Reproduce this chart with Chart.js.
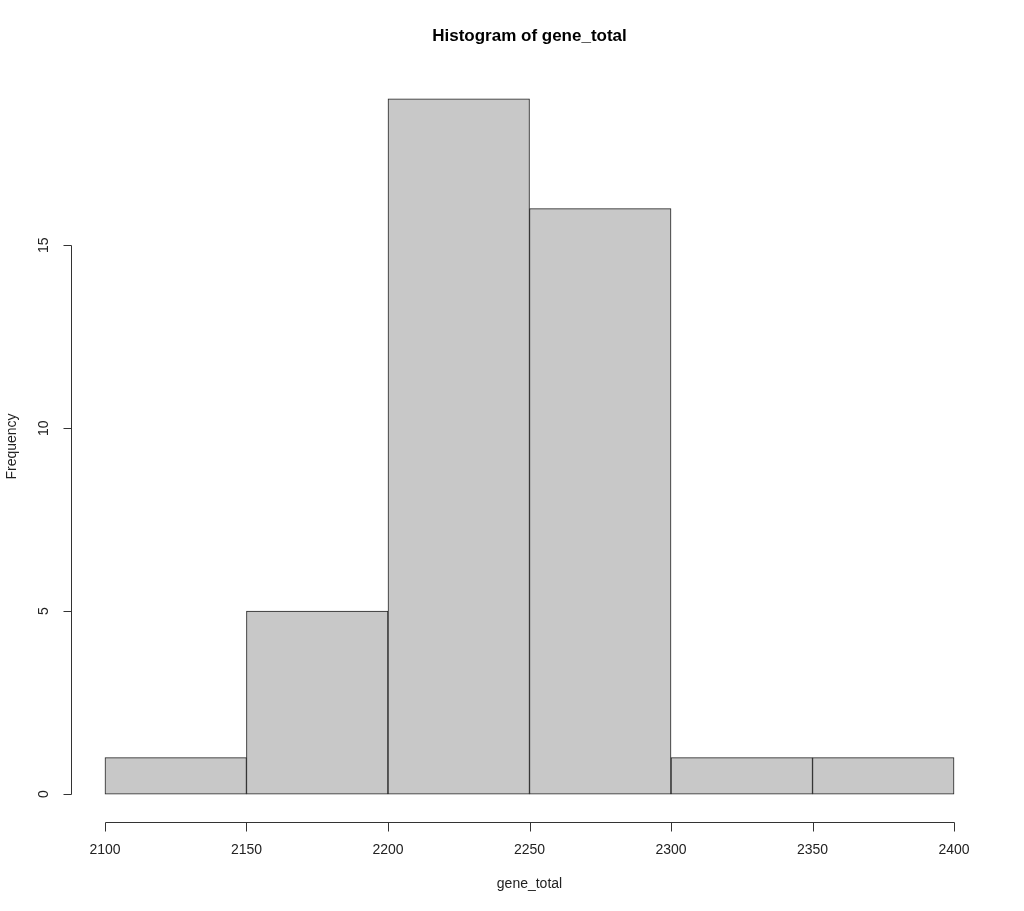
<!DOCTYPE html>
<html>
  <head>
    <meta charset="utf-8">
    <title>Histogram of gene_total</title>
    <script src="https://cdn.jsdelivr.net/npm/chart.js@4.4.1/dist/chart.umd.min.js"></script>
    <style>
      html, body { margin: 0; padding: 0; background: #fff; }
      canvas { display: block; }
    </style>
  </head>
  <body>
    <canvas id="hist" width="1024" height="911"></canvas>
    <script>
      // bin edges and counts
      const breaks = [2100, 2150, 2200, 2250, 2300, 2350, 2400];
      const counts = [1, 5, 19, 16, 1, 1];
      const xTicks = [2100, 2150, 2200, 2250, 2300, 2350, 2400];
      const yTicks = [0, 5, 10, 15];

      const titleText = 'Histogram of gene_total';
      const xLabel = 'gene_total';
      const yLabel = 'Frequency';

      const points = counts.map((c, i) => ({ x: (breaks[i] + breaks[i + 1]) / 2, y: c }));

      const FONT = '"Liberation Sans", Arial, Helvetica, sans-serif';

      // R style detached axes, drawn after the bars
      const rAxes = {
        id: 'rAxes',
        afterDraw(chart) {
          const ctx = chart.ctx;
          const xs = chart.scales.x, ys = chart.scales.y;
          const area = chart.chartArea;
          ctx.save();
          ctx.strokeStyle = '#333';
          ctx.fillStyle = '#222';
          ctx.lineWidth = 1;

          // x axis
          const ax = area.bottom + 0.5;
          ctx.beginPath();
          ctx.moveTo(Math.round(xs.getPixelForValue(xTicks[0])) + 0.5, ax);
          ctx.lineTo(Math.round(xs.getPixelForValue(xTicks[xTicks.length - 1])) + 0.5, ax);
          xTicks.forEach(v => {
            const px = Math.round(xs.getPixelForValue(v)) + 0.5;
            ctx.moveTo(px, ax);
            ctx.lineTo(px, ax + 9);
          });
          ctx.stroke();
          ctx.font = '14px ' + FONT;
          ctx.textAlign = 'center';
          ctx.textBaseline = 'middle';
          xTicks.forEach(v => ctx.fillText(String(v), xs.getPixelForValue(v), ax + 28));

          // y axis
          const ay = area.left + 0.5;
          ctx.beginPath();
          ctx.moveTo(ay, Math.round(ys.getPixelForValue(yTicks[0])) + 0.5);
          ctx.lineTo(ay, Math.round(ys.getPixelForValue(yTicks[yTicks.length - 1])) + 0.5);
          yTicks.forEach(v => {
            const py = Math.round(ys.getPixelForValue(v)) + 0.5;
            ctx.moveTo(ay, py);
            ctx.lineTo(ay - 8, py);
          });
          ctx.stroke();
          yTicks.forEach(v => {
            ctx.save();
            ctx.translate(ay - 27, ys.getPixelForValue(v));
            ctx.rotate(-Math.PI / 2);
            ctx.fillText(String(v), 0, 0);
            ctx.restore();
          });

          // axis titles
          ctx.fillText(xLabel, (area.left + area.right) / 2, 884);
          ctx.save();
          ctx.translate(12, (area.top + area.bottom) / 2);
          ctx.rotate(-Math.PI / 2);
          ctx.fillText(yLabel, 0, 0);
          ctx.restore();

          // main title
          ctx.fillStyle = '#000';
          ctx.font = 'bold 17px ' + FONT;
          ctx.fillText(titleText, (area.left + area.right) / 2, 36);
          ctx.restore();
        }
      };

      const chart = new Chart(document.getElementById('hist'), {
        type: 'bar',
        data: {
          datasets: [{
            label: 'gene_total',
            data: points,
            backgroundColor: '#c8c8c8',
            borderColor: '#222',
            borderWidth: 1,
            borderSkipped: false,
            barPercentage: 1.0,
            categoryPercentage: 1.0
          }]
        },
        plugins: [rAxes],
        options: {
          responsive: false,
          animation: false,
          layout: { padding: { left: 71, right: 36, top: 71, bottom: 89 } },
          scales: {
            x: { type: 'linear', min: 2088, max: 2412, offset: false, display: false },
            y: { min: -0.76, max: 19.76, display: false }
          },
          plugins: {
            legend: { display: false },
            tooltip: { enabled: false },
            title: { display: false }
          }
        }
      });
    </script>
  </body>
</html>
